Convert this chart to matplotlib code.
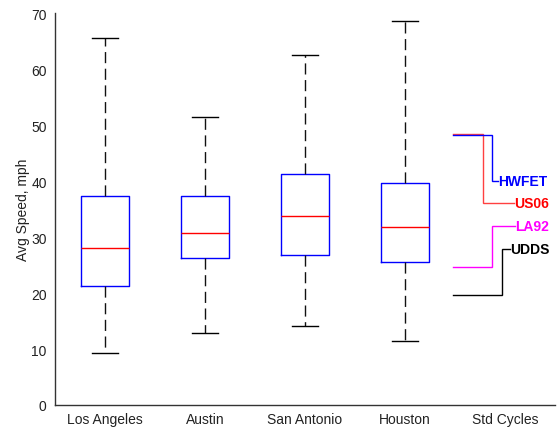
import matplotlib
matplotlib.use("Agg")
import matplotlib.pyplot as plt

plt.rcParams['font.family'] = ['Liberation Sans', 'DejaVu Sans']

cities = ["Los Angeles", "Austin", "San Antonio", "Houston"]
whis_lo = [9.3, 12.9, 14.05, 11.4]
q1 = [21.2, 26.3, 26.7, 25.5]
median = [28.0, 30.7, 33.75, 31.8]
q3 = [37.4, 37.4, 41.25, 39.6]
whis_hi = [65.6, 51.4, 62.55, 68.6]

cycle_names = ["HWFET", "US06", "LA92", "UDDS"]
cycle_speeds = [48.3, 48.4, 24.6, 19.6]
cycle_colors = ["#0000ff", "#ff0000", "#ff00ff", "#000000"]
cycle_line_colors = ["#0000ff", "#ff4040", "#ff00ff", "#000000"]
# layout for the label leaders: (joint x, label y, end x)
cycle_joint_x = [4.867, 4.777, 4.867, 4.97]
cycle_label_y = [40.05, 36.07, 32.0, 27.86]
cycle_end_x = [4.93, 5.09, 5.10, 5.05]

xtick_labels = cities + ["Std Cycles"]

fig = plt.figure(figsize=(5.59, 4.31), dpi=100)
ax = fig.add_axes([55/559, 25/431, 500/559, 392/431])

stats = []
for i, c in enumerate(cities):
    stats.append(dict(label=c, med=median[i], q1=q1[i], q3=q3[i],
                      whislo=whis_lo[i], whishi=whis_hi[i], fliers=[]))

ax.bxp(stats, positions=range(1, len(cities) + 1), widths=0.48, capwidths=0.26,
       showfliers=False,
       boxprops=dict(color="#0000ff", linewidth=1.0),
       medianprops=dict(color="#ff0000", linewidth=1.0),
       whiskerprops=dict(color="#111111", linewidth=1.0, linestyle=(0, (8, 4))),
       capprops=dict(color="#000000", linewidth=1.0))

start_x = 4.48
order = [1, 0, 2, 3]
for i in order:
    s = cycle_speeds[i]
    ax.plot([start_x, cycle_joint_x[i], cycle_joint_x[i], cycle_end_x[i]],
            [s, s, cycle_label_y[i], cycle_label_y[i]],
            color=cycle_line_colors[i], linewidth=1.0, solid_joinstyle='miter')
    ax.text(cycle_end_x[i] + 0.005, cycle_label_y[i], cycle_names[i],
            color=cycle_colors[i], fontsize=10, fontweight='bold',
            ha='left', va='center')

ax.set_xlim(0.5, 5.5)
ax.set_ylim(0, 70)
ax.set_xticks(range(1, 6))
ax.set_xticklabels(xtick_labels)
ax.set_yticks(range(0, 71, 10))
ax.tick_params(axis='both', length=0, labelsize=10, colors='#222222')
ax.tick_params(axis='y', pad=6)
ax.tick_params(axis='x', pad=5)
ax.set_ylabel("Avg Speed, mph", fontsize=10, color='#222222', labelpad=1)
for side in ['top', 'right']:
    ax.spines[side].set_visible(False)
for side in ['left', 'bottom']:
    ax.spines[side].set_color('#333333')
    ax.spines[side].set_linewidth(1.0)

fig.savefig("out.png", dpi=100)
